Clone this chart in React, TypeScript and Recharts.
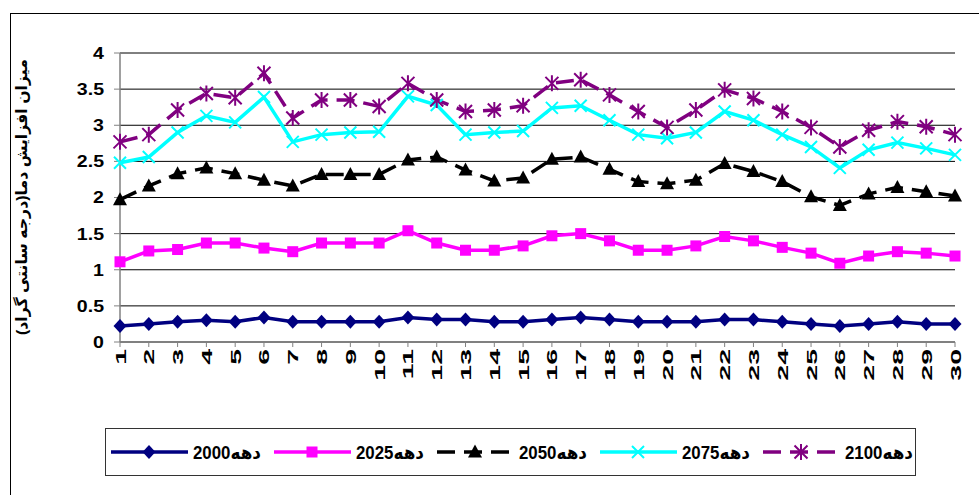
import React from 'react';
import { LineChart, Line, XAxis, YAxis, CartesianGrid } from 'recharts';

// day index along the x axis
const days = ['1', '2', '3', '4', '5', '6', '7', '8', '9', '10', '11', '12', '13', '14', '15',
  '16', '17', '18', '19', '20', '21', '22', '23', '24', '25', '26', '27', '28', '29', '30'];

const decade2000 = [0.22, 0.25, 0.28, 0.3, 0.28, 0.34, 0.28, 0.28, 0.28, 0.28, 0.34, 0.31, 0.31, 0.28, 0.28,
  0.31, 0.34, 0.31, 0.28, 0.28, 0.28, 0.31, 0.31, 0.28, 0.25, 0.22, 0.25, 0.28, 0.25, 0.25];
const decade2025 = [1.11, 1.26, 1.28, 1.37, 1.37, 1.3, 1.25, 1.37, 1.37, 1.37, 1.54, 1.37, 1.27, 1.27, 1.33,
  1.47, 1.5, 1.4, 1.27, 1.27, 1.33, 1.46, 1.4, 1.31, 1.23, 1.09, 1.19, 1.25, 1.23, 1.19];
const decade2050 = [1.97, 2.16, 2.33, 2.41, 2.33, 2.24, 2.16, 2.32, 2.32, 2.32, 2.52, 2.56, 2.38, 2.23, 2.27,
  2.53, 2.56, 2.39, 2.22, 2.19, 2.24, 2.47, 2.36, 2.22, 2.01, 1.89, 2.05, 2.14, 2.08, 2.02];
const decade2075 = [2.48, 2.56, 2.9, 3.13, 3.04, 3.39, 2.77, 2.87, 2.9, 2.91, 3.4, 3.28, 2.87, 2.9, 2.92,
  3.24, 3.27, 3.07, 2.87, 2.82, 2.9, 3.19, 3.07, 2.87, 2.7, 2.41, 2.66, 2.76, 2.68, 2.59];
const decade2100 = [2.77, 2.87, 3.21, 3.44, 3.38, 3.72, 3.1, 3.35, 3.35, 3.26, 3.58, 3.35, 3.19, 3.21, 3.27,
  3.58, 3.63, 3.42, 3.19, 2.97, 3.21, 3.49, 3.37, 3.19, 2.97, 2.7, 2.93, 3.05, 2.98, 2.87];

const yTicks = [0, 0.5, 1, 1.5, 2, 2.5, 3, 3.5, 4];
const seriesNames = ['دهه2000', 'دهه2025', 'دهه2050', 'دهه2075', 'دهه2100'];
const yTitle = 'میزان افزایش دما(درجه سانتی گراد)';

const data = days.map((day, i) => ({
  day,
  d2000: decade2000[i],
  d2025: decade2025[i],
  d2050: decade2050[i],
  d2075: decade2075[i],
  d2100: decade2100[i]
}));

const FONT = '"Liberation Sans", Arial, "DejaVu Sans", sans-serif';

type P = { cx?: number; cy?: number };

const Diamond = ({ cx = 0, cy = 0 }: P) => (
  <path d={`M${cx},${cy - 7}L${cx + 6.5},${cy}L${cx},${cy + 7}L${cx - 6.5},${cy}Z`} fill="#000080" />
);
const Square = ({ cx = 0, cy = 0 }: P) => <rect x={cx - 5.5} y={cy - 5.5} width={11} height={11} fill="#FF00FF" />;
const Triangle = ({ cx = 0, cy = 0 }: P) => (
  <path d={`M${cx},${cy - 7.5}L${cx + 7},${cy + 5.5}L${cx - 7},${cy + 5.5}Z`} fill="#000000" />
);
const Cross = ({ cx = 0, cy = 0 }: P) => (
  <path d={`M${cx - 6},${cy - 6}L${cx + 6},${cy + 6}M${cx - 6},${cy + 6}L${cx + 6},${cy - 6}`} stroke="#00FFFF" strokeWidth={2} />
);
const Star = ({ cx = 0, cy = 0 }: P) => (
  <path
    d={`M${cx - 6.5},${cy - 6.5}L${cx + 6.5},${cy + 6.5}M${cx - 6.5},${cy + 6.5}L${cx + 6.5},${cy - 6.5}M${cx},${cy - 8}L${cx},${cy + 8}`}
    stroke="#800080"
    strokeWidth={2}
  />
);

const series = [
  { key: 'd2000', name: seriesNames[0], color: '#000080', dash: undefined, Marker: Diamond },
  { key: 'd2025', name: seriesNames[1], color: '#FF00FF', dash: undefined, Marker: Square },
  { key: 'd2050', name: seriesNames[2], color: '#000000', dash: '18 9', Marker: Triangle },
  { key: 'd2075', name: seriesNames[3], color: '#00FFFF', dash: undefined, Marker: Cross },
  { key: 'd2100', name: seriesNames[4], color: '#800080', dash: '18 9', Marker: Star }
];

const YTick = ({ x, y, payload }: any) => (
  <text
    x={x}
    y={y}
    dy={6}
    textAnchor="end"
    fontSize={17}
    fontWeight="bold"
    fontFamily={FONT}
    fill="#000"
    transform={`translate(${x} ${y}) scale(1.15 1) translate(${-x} ${-y})`}
  >
    {payload.value}
  </text>
);

const XTick = ({ x, y, payload }: any) => (
  <g transform={`translate(${x},${y})`}>
    <text
      x={0}
      y={0}
      dy={5.5}
      textAnchor="end"
      fontSize={15}
      fontWeight="bold"
      fontFamily={FONT}
      fill="#000"
      transform="rotate(-90) scale(1.9 1)"
    >
      {payload.value}
    </text>
  </g>
);

function ChartLegend() {
  return (
    <svg width={812} height={49} style={{ position: 'absolute', left: 105, top: 428 }}>
      <rect x={0.5} y={0.5} width={810} height={47} fill="#fff" stroke="#333" strokeWidth={1} />
      {series.map((s, i) => {
        const x0 = 6 + i * 163;
        const M = s.Marker;
        return (
          <g key={s.key}>
            <line x1={x0} y1={24} x2={x0 + 77} y2={24} stroke={s.color} strokeWidth={3.5} strokeDasharray={s.dash} />
            <M cx={x0 + 38} cy={24} />
            <text
              x={x0 + 82}
              y={31}
              fontSize={18.5}
              fontWeight="bold"
              fontFamily={FONT}
              fill="#000"
              textLength={68}
              lengthAdjust="spacingAndGlyphs"
            >
              {s.name}
            </text>
          </g>
        );
      })}
    </svg>
  );
}

export default function App() {
  return (
    <div style={{ position: 'absolute', left: 0, top: 0, width: 979, height: 495, overflow: 'hidden', background: '#fff' }}>
      <div
        style={{
          position: 'absolute',
          left: 10,
          top: 13,
          width: 1000,
          height: 520,
          border: '1.5px solid #000',
          boxSizing: 'border-box'
        }}
      />
      <div style={{ position: 'absolute', left: 0, top: 0 }}>
        <LineChart width={979} height={495} data={data} margin={{ top: 53, right: 24, left: 0, bottom: 108 }}>
          <CartesianGrid vertical={false} stroke="#000" strokeWidth={1} />
          <XAxis
            dataKey="day"
            height={45}
            interval={0}
            tickSize={5}
            tickMargin={2}
            axisLine={{ stroke: '#808080', strokeWidth: 1.5 }}
            tickLine={{ stroke: '#808080' }}
            tick={<XTick />}
          />
          <YAxis
            width={120}
            domain={[0, 4]}
            ticks={yTicks}
            interval={0}
            tickSize={6}
            tickMargin={10}
            axisLine={{ stroke: '#808080', strokeWidth: 1.5 }}
            tickLine={{ stroke: '#808080' }}
            tick={<YTick />}
          />
          {series.map(s => {
            const M = s.Marker;
            return (
              <Line
                key={s.key}
                type="linear"
                dataKey={s.key}
                name={s.name}
                stroke={s.color}
                strokeWidth={3.5}
                strokeDasharray={s.dash}
                dot={(p: any) => <M key={`${s.key}-${p.index}`} cx={p.cx} cy={p.cy} />}
                activeDot={false}
                isAnimationActive={false}
              />
            );
          })}
        </LineChart>
      </div>
      <svg width={40} height={495} style={{ position: 'absolute', left: 0, top: 0 }}>
        <text
          x={-197}
          y={27}
          transform="rotate(-90)"
          textAnchor="middle"
          direction="rtl"
          fontSize={15.5}
          fontWeight="bold"
          fontFamily={FONT}
          fill="#000"
          textLength={276}
          lengthAdjust="spacingAndGlyphs"
        >
          {yTitle}
        </text>
      </svg>
      <ChartLegend />
    </div>
  );
}
